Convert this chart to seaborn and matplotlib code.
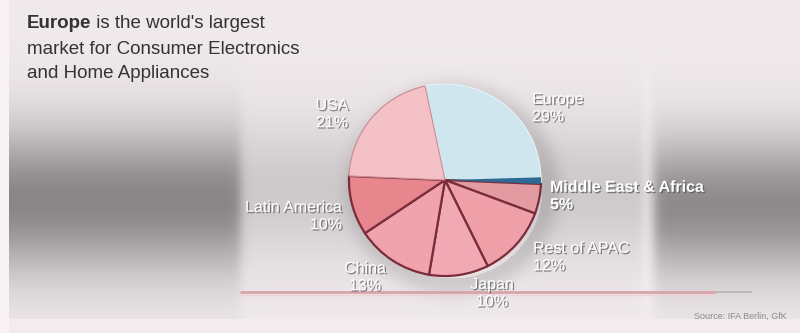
import numpy as np
import matplotlib
matplotlib.use("Agg")
import matplotlib.pyplot as plt
import matplotlib.patheffects as pe
import matplotlib.patches as mpatches
import seaborn as sns

# ---- data ----
regions = ["Europe", "Middle East & Africa", "Rest of APAC", "Japan", "China", "Latin America", "USA"]
shares = [29, 5, 12, 10, 13, 10, 21]
pct_labels = ["29%", "5%", "12%", "10%", "13%", "10%", "21%"]
slice_colors = ["#cfe6ef", "#e29ba1", "#ef9fa8", "#f1aab3", "#f0a3ac", "#e8868e", "#f4c1c6"]

title_bold = "Europe"
title_lines = [" is the world's largest", "market for Consumer Electronics", "and Home Appliances"]
source_text = "Source: IFA Berlin, GfK"

sns.set_theme(style="white")

W, H = 800, 333
fig = plt.figure(figsize=(8, 3.33), dpi=100)

# ---- background gradient ----
bg = fig.add_axes([0, 0, 1, 1])
yy, xx = np.mgrid[0:H, 0:W].astype(float)
base = 0.94
left = base - 0.40 * np.exp(-((yy - 200) / 72) ** 2)
mid = base - 0.13 * np.exp(-((yy - 190) / 70) ** 2)
right = base - 0.38 * np.exp(-((yy - 205) / 68) ** 2)
wl = 1 / (1 + np.exp((xx - 240) / 3))
wr = 1 / (1 + np.exp(-(xx - 655) / 3))
wm = 1 - wl - wr
val = wl * left + wm * mid + wr * right
val += 0.06 * np.exp(-((xx - 646) / 6) ** 2) * np.exp(-((yy - 200) / 90) ** 2)
# soft shadow under the pie
dist = np.sqrt((xx - 452) ** 2 + (yy - 188) ** 2)
val -= 0.10 * np.exp(-((np.maximum(dist - 95, 0)) / 14) ** 2) * (dist > 90)
val = np.where(xx < 9, 0.98, val)
val = np.where(yy > 318, np.maximum(val, 0.95), val)
img = np.dstack([val * 1.0, val * 0.975, val * 0.985])
img = np.clip(img, 0, 1)
bg.imshow(img, extent=[0, W, H, 0], aspect="auto", interpolation="bilinear")
bg.set_xlim(0, W)
bg.set_ylim(H, 0)
bg.axis("off")
bg.plot([240, 715], [292, 292], color="#d9a3aa", lw=2.0, solid_capstyle="butt")
bg.plot([715, 752], [292, 292], color="#b9b3b5", lw=1.2, solid_capstyle="butt")
bg.plot([240, 715], [294.5, 294.5], color="#eed3d6", lw=1.0)

# ---- pie ----
cx, cy, r = 445, 180, 97
ax = fig.add_axes([(cx - r) / W, (H - cy - r) / H, 2 * r / W, 2 * r / H])
wedges, _ = ax.pie(shares, colors=slice_colors, startangle=102, counterclock=False,
                   wedgeprops=dict(edgecolor="#7a2c3a", linewidth=1.6))
wedges[0].set_edgecolor("#e8f2f5")
wedges[0].set_linewidth(0.8)
wedges[-1].set_edgecolor("#c98a93")
wedges[-1].set_linewidth(0.8)
end_deg = 102 - shares[0] * 3.6
ax.add_patch(mpatches.Wedge((0, 0), 1.0, end_deg, end_deg + 4.0, width=0.97,
                            facecolor="#2e6a94", edgecolor="none"))
ax.set_xlim(-1.01, 1.01)
ax.set_ylim(-1.01, 1.01)
ax.set_aspect("auto")
ax.axis("off")

# ---- labels ----
shadow = [pe.withSimplePatchShadow(offset=(1, -1), shadow_rgbFace="#555555", alpha=0.7)]
lab_pos = {
    "Europe": (532, 108, "left"),
    "Middle East & Africa": (550, 196, "left"),
    "Rest of APAC": (533, 257, "left"),
    "Japan": (492, 293, "center"),
    "China": (365, 277, "center"),
    "Latin America": (342, 216, "right"),
    "USA": (332, 114, "center"),
}
for name, pct in zip(regions, pct_labels):
    x, y, ha = lab_pos[name]
    fig.text(x / W, 1 - y / H, name + "\n" + pct, ha=ha, va="center", color="white",
             fontsize=11.5, fontweight="bold" if name == "Middle East & Africa" else "normal",
             linespacing=1.2, path_effects=shadow, family="Liberation Sans")

# ---- title ----
tc = "#333333"
tfs = 13.5
t1 = fig.text(27 / W, 1 - 24 / H, title_bold, ha="left", va="center", color=tc,
              fontsize=tfs, fontweight="bold", family="Liberation Sans")
fig.canvas.draw()
bb = t1.get_window_extent(renderer=fig.canvas.get_renderer())
fig.text(bb.x1 / W, 1 - 24 / H, title_lines[0], ha="left", va="center", color=tc,
         fontsize=tfs, family="Liberation Sans")
fig.text(27 / W, 1 - 49 / H, title_lines[1], ha="left", va="center", color=tc,
         fontsize=tfs, family="Liberation Sans")
fig.text(27 / W, 1 - 73 / H, title_lines[2], ha="left", va="center", color=tc,
         fontsize=tfs, family="Liberation Sans")

fig.text(787 / W, 1 - 316 / H, source_text, ha="right", va="center", color="#8a8a8a",
         fontsize=6.5, family="Liberation Sans")

fig.savefig("out.png", dpi=100)
